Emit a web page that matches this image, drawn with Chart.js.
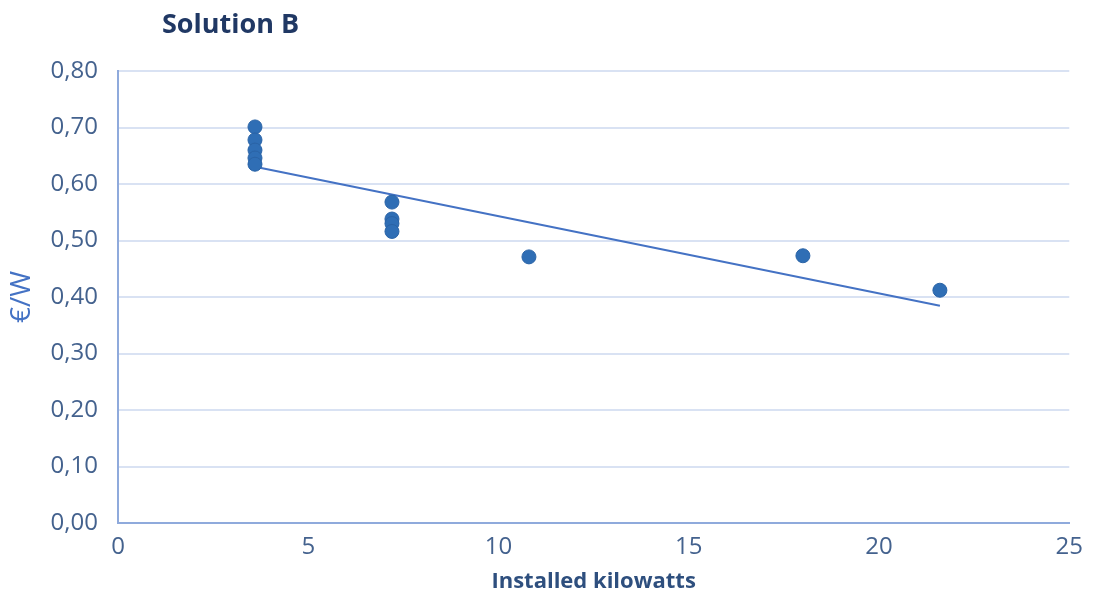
<!DOCTYPE html>
<html>
<head>
<meta charset="utf-8">
<script src="https://cdn.jsdelivr.net/npm/chart.js@4"></script>
<style>
  html, body { margin: 0; padding: 0; background: #ffffff; }
  #wrap { width: 1093px; height: 596px; position: relative; }
</style>
</head>
<body>
<div id="wrap"><canvas id="c" width="1093" height="596"></canvas></div>
<script>
const chartTitle = 'Solution B';
const xAxisTitle = 'Installed kilowatts';
const yAxisTitle = '€/W';
const installedKw = [3.6, 3.6, 3.6, 3.6, 3.6, 7.2, 7.2, 7.2, 7.2, 10.8, 18, 21.6];
const eurPerWatt  = [0.701, 0.678, 0.660, 0.646, 0.635, 0.568, 0.538, 0.530, 0.516, 0.471, 0.473, 0.412];
const xTicks = [0, 5, 10, 15, 20, 25];
const yTicks = [0, 0.1, 0.2, 0.3, 0.4, 0.5, 0.6, 0.7, 0.8];

const points = installedKw.map((x, i) => ({ x: x, y: eurPerWatt[i] }));

// least-squares linear trendline computed from the data
const n = installedKw.length;
const mx = installedKw.reduce((a, b) => a + b, 0) / n;
const my = eurPerWatt.reduce((a, b) => a + b, 0) / n;
let sxy = 0, sxx = 0;
for (let i = 0; i < n; i++) {
  sxy += (installedKw[i] - mx) * (eurPerWatt[i] - my);
  sxx += (installedKw[i] - mx) ** 2;
}
const slope = sxy / sxx;
const intercept = my - slope * mx;
const xMin = Math.min(...installedKw), xMax = Math.max(...installedKw);
const trend = [xMin, xMax].map(x => ({ x: x, y: intercept + slope * x }));

const titlePlugin = {
  id: 'leftTitle',
  afterDraw(chart) {
    const ctx = chart.ctx;
    ctx.save();
    ctx.font = 'bold 27px "Open Sans", sans-serif';
    ctx.fillStyle = '#203864';
    ctx.textBaseline = 'middle';
    ctx.textAlign = 'left';
    ctx.fillText(chartTitle, 162, 25);
    ctx.restore();
  }
};

new Chart(document.getElementById('c'), {
  type: 'scatter',
  data: {
    datasets: [
      {
        type: 'line',
        label: 'Trend',
        data: trend,
        borderColor: '#4472C4',
        borderWidth: 2,
        pointRadius: 0,
        fill: false,
        order: 2
      },
      {
        label: 'Solution B',
        data: points,
        backgroundColor: '#2F6EB5',
        borderColor: '#2A63A6',
        borderWidth: 1,
        pointRadius: 7,
        order: 1
      }
    ]
  },
  options: {
    responsive: false,
    animation: false,
    layout: { padding: { left: 0, right: 22, top: 71, bottom: 0 } },
    plugins: {
      legend: { display: false },
      tooltip: { enabled: false },
      title: { display: false }
    },
    scales: {
      x: {
        type: 'linear',
        min: 0, max: 25,
        afterBuildTicks(scale) { scale.ticks = xTicks.map(v => ({ value: v })); },
        afterFit(scale) { scale.height = 73; },
        grid: { display: false, drawTicks: false },
        border: { display: true, color: '#8FAADC', width: 2 },
        ticks: {
          padding: 10,
          color: '#44628E',
          font: { family: '"Open Sans", sans-serif', size: 24 },
          maxRotation: 0
        },
        title: {
          display: true,
          text: xAxisTitle,
          color: '#2E4F7E',
          font: { family: '"Open Sans", sans-serif', size: 22, weight: 'bold' },
          padding: { top: 0, bottom: 1 }
        }
      },
      y: {
        type: 'linear',
        min: 0, max: 0.8,
        afterBuildTicks(scale) { scale.ticks = yTicks.map(v => ({ value: v })); },
        afterFit(scale) { scale.width = 118; },
        grid: { color: '#D9E2F3', lineWidth: 2, drawTicks: false },
        border: { display: true, color: '#8FAADC', width: 2 },
        ticks: {
          padding: 20,
          color: '#44628E',
          font: { family: '"Open Sans", sans-serif', size: 24 },
          callback: v => v.toFixed(2).replace('.', ',')
        },
        title: {
          display: true,
          text: yAxisTitle,
          color: '#4472C4',
          font: { family: '"Open Sans", sans-serif', size: 28 },
          padding: { top: 5, bottom: 0 }
        }
      }
    }
  },
  plugins: [titlePlugin]
});
</script>
</body>
</html>
